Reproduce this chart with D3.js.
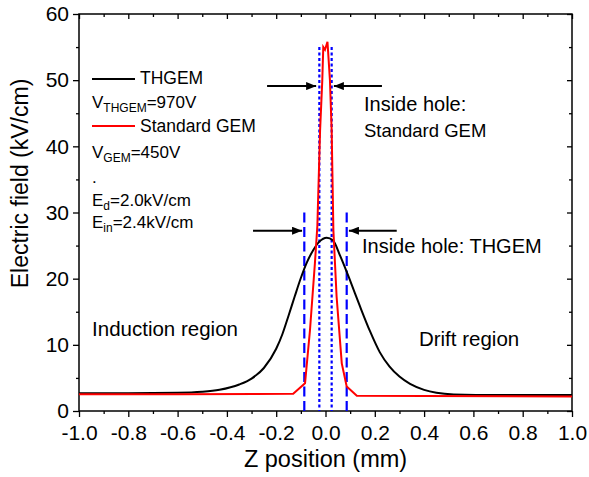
<!DOCTYPE html>
<html>
<head>
<meta charset="utf-8">
<script src="https://cdn.jsdelivr.net/npm/d3@7"></script>
<style>
  body { margin: 0; background: #fff; }
  svg text { font-family: Arial, "Liberation Sans", sans-serif; fill: #000; }
</style>
</head>
<body>
<svg id="chart" width="589" height="477"></svg>
<script>
// z position (mm) vs electric field (kV/cm)
const thgemZ = [-1.0, -0.8, -0.6, -0.5, -0.43, -0.35, -0.3, -0.25, -0.2, -0.175, -0.15, -0.125,
  -0.1, -0.075, -0.05, -0.025, 0.005, 0.03, 0.06, 0.1, 0.14, 0.18, 0.22, 0.26, 0.3, 0.343,
  0.4, 0.45, 0.52, 0.7, 1.0];
const thgemE = [2.7, 2.7, 2.75, 2.9, 3.2, 4.0, 4.9, 6.5, 9.4, 11.6, 14.4, 17.3,
  20.1, 22.5, 24.3, 25.6, 26.2, 25.8, 23.4, 19.7, 15.8, 12.1, 8.9, 6.7, 5.2, 4.1,
  3.2, 2.75, 2.5, 2.4, 2.4];

const gemZ = [-1.0, -0.6, -0.131, -0.083, -0.063, -0.043, -0.033, -0.022, -0.013, -0.009, -0.002,
  0.008, 0.018, 0.025, 0.032, 0.045, 0.066, 0.086, 0.127, 0.4, 1.0];
const gemE = [2.55, 2.55, 2.6, 4.2, 12.2, 22.3, 28.0, 42.4, 50.0, 55.0, 54.6,
  55.8, 50.0, 42.4, 27.3, 17.3, 7.2, 3.7, 2.3, 2.25, 2.2];

// hole edges: dotted = standard GEM, dashed = THGEM
const gemHole = [-0.025, 0.025];
const thgemHole = [-0.086, 0.086];
const gemHoleTop = 55;
const thgemHoleTop = 30;

const xTicks = [-1.0, -0.8, -0.6, -0.4, -0.2, 0.0, 0.2, 0.4, 0.6, 0.8, 1.0];
const xMinor = [-0.9, -0.7, -0.5, -0.3, -0.1, 0.1, 0.3, 0.5, 0.7, 0.9];
const yTicks = [0, 10, 20, 30, 40, 50, 60];
const yMinor = [5, 15, 25, 35, 45, 55];

// arrows [fromZ, toZ, E]
const arrows = [
  [-0.237, -0.038, 49.1], [0.229, 0.034, 49.1],
  [-0.294, -0.095, 27.25], [0.289, 0.095, 27.25]
];
// notes [z, E, text, size]
const notes = [
  [0.156, 45.3, 'Inside hole:', 20],
  [0.156, 41.4, 'Standard GEM', 18.5],
  [0.148, 23.9, 'Inside hole: THGEM', 20],
  [-0.947, 11.3, 'Induction region', 20.5],
  [0.379, 9.8, 'Drift region', 20.5]
];

const svg = d3.select('#chart');
const margin = {left: 79, right: 17, top: 14, bottom: 66};
const W = 589, H = 477;

const x = d3.scaleLinear().domain([-1, 1]).range([margin.left, W - margin.right]);
const y = d3.scaleLinear().domain([0, 60]).range([H - margin.bottom, margin.top]);

const fmtX = d => d.toFixed(1);

// axes, outward on bottom / left, inward mirror on top / right
const gx = svg.append('g').attr('transform', `translate(0,${y(0)})`);
gx.call(d3.axisBottom(x).tickValues(xTicks).tickFormat(fmtX).tickSize(6).tickPadding(8));
gx.append('g').call(d3.axisBottom(x).tickValues(xMinor).tickFormat('').tickSize(3));
const gy = svg.append('g').attr('transform', `translate(${x(-1)},0)`);
gy.call(d3.axisLeft(y).tickValues(yTicks).tickSize(6).tickPadding(4));
gy.append('g').call(d3.axisLeft(y).tickValues(yMinor).tickFormat('').tickSize(3));
const gt = svg.append('g').attr('transform', `translate(0,${y(60)})`);
gt.call(d3.axisBottom(x).tickValues(xTicks).tickFormat('').tickSize(5));
gt.append('g').call(d3.axisBottom(x).tickValues(xMinor).tickFormat('').tickSize(3));
const gr = svg.append('g').attr('transform', `translate(${x(1)},0)`);
gr.call(d3.axisLeft(y).tickValues(yTicks).tickFormat('').tickSize(5));
gr.append('g').call(d3.axisLeft(y).tickValues(yMinor).tickFormat('').tickSize(3));

svg.selectAll('.domain').remove();
svg.selectAll('.tick line').attr('stroke', '#000').attr('stroke-width', 1.3);
svg.selectAll('.tick text').style('font-size', '21px').attr('fill', '#000');

svg.append('rect')
  .attr('x', x(-1)).attr('y', y(60))
  .attr('width', x(1) - x(-1)).attr('height', y(0) - y(60))
  .attr('fill', 'none').attr('stroke', '#000').attr('stroke-width', 1.5);

// hole markers
svg.selectAll('line.gemhole').data(gemHole).join('line')
  .attr('class', 'gemhole')
  .attr('x1', d => x(d)).attr('x2', d => x(d))
  .attr('y1', y(gemHoleTop)).attr('y2', y(0))
  .attr('stroke', '#0000ff').attr('stroke-width', 2.2).attr('stroke-dasharray', '3,2.5');
svg.selectAll('line.thgemhole').data(thgemHole).join('line')
  .attr('class', 'thgemhole')
  .attr('x1', d => x(d)).attr('x2', d => x(d))
  .attr('y1', y(thgemHoleTop)).attr('y2', y(0))
  .attr('stroke', '#0000ff').attr('stroke-width', 2.2).attr('stroke-dasharray', '10,4.5');

const smooth = d3.line().x(d => x(d[0])).y(d => y(d[1])).curve(d3.curveMonotoneX);
const line = d3.line().x(d => x(d[0])).y(d => y(d[1]));
svg.append('path')
  .datum(d3.zip(thgemZ, thgemE))
  .attr('d', smooth).attr('fill', 'none').attr('stroke', '#000').attr('stroke-width', 2);
svg.append('path')
  .datum(d3.zip(gemZ, gemE))
  .attr('d', line).attr('fill', 'none').attr('stroke', '#ff0000').attr('stroke-width', 2);

// arrows
svg.append('defs').append('marker')
  .attr('id', 'head').attr('viewBox', '0 0 10 8')
  .attr('refX', 10).attr('refY', 4)
  .attr('markerWidth', 10).attr('markerHeight', 8)
  .attr('markerUnits', 'userSpaceOnUse').attr('orient', 'auto')
  .append('path').attr('d', 'M0,0L10,4L0,8Z').attr('fill', '#000');
svg.selectAll('line.arrow').data(arrows).join('line')
  .attr('class', 'arrow')
  .attr('x1', d => x(d[0])).attr('x2', d => x(d[1]))
  .attr('y1', d => y(d[2])).attr('y2', d => y(d[2]))
  .attr('stroke', '#000').attr('stroke-width', 2)
  .attr('marker-end', 'url(#head)');

svg.selectAll('text.note').data(notes).join('text')
  .attr('class', 'note')
  .attr('x', d => x(d[0])).attr('y', d => y(d[1]))
  .style('font-size', d => d[3] + 'px')
  .text(d => d[2]);

// legend
const lg = svg.append('g').attr('transform', 'translate(92,0)');
lg.append('line').attr('x1', 0).attr('x2', 43).attr('y1', 79).attr('y2', 79)
  .attr('stroke', '#000').attr('stroke-width', 2);
lg.append('text').attr('x', 48).attr('y', 84).style('font-size', '17.5px').text('THGEM');
lg.append('line').attr('x1', 0).attr('x2', 43).attr('y1', 126).attr('y2', 126)
  .attr('stroke', '#ff0000').attr('stroke-width', 2);
lg.append('text').attr('x', 48).attr('y', 132).style('font-size', '17.5px').text('Standard GEM');

function subText(yPos, main, sub, rest) {
  const t = lg.append('text').attr('x', 0).attr('y', yPos).style('font-size', '17px');
  t.append('tspan').text(main);
  t.append('tspan').attr('dy', 4).style('font-size', '12px').text(sub);
  t.append('tspan').attr('dy', -4).text(rest);
}
subText(108, 'V', 'THGEM', '=970V');
subText(158, 'V', 'GEM', '=450V');
lg.append('text').attr('x', 0).attr('y', 183).style('font-size', '17px').text('.');
subText(206, 'E', 'd', '=2.0kV/cm');
subText(228, 'E', 'in', '=2.4kV/cm');

// axis titles
svg.append('text')
  .attr('x', (x(-1) + x(1)) / 2).attr('y', 467)
  .attr('text-anchor', 'middle').style('font-size', '23.5px')
  .text('Z position (mm)');
svg.append('text')
  .attr('transform', `translate(28,${(y(0) + y(60)) / 2 - 29}) rotate(-90)`)
  .attr('text-anchor', 'middle').style('font-size', '23px')
  .text('Electric field (kV/cm)');
</script>
</body>
</html>
